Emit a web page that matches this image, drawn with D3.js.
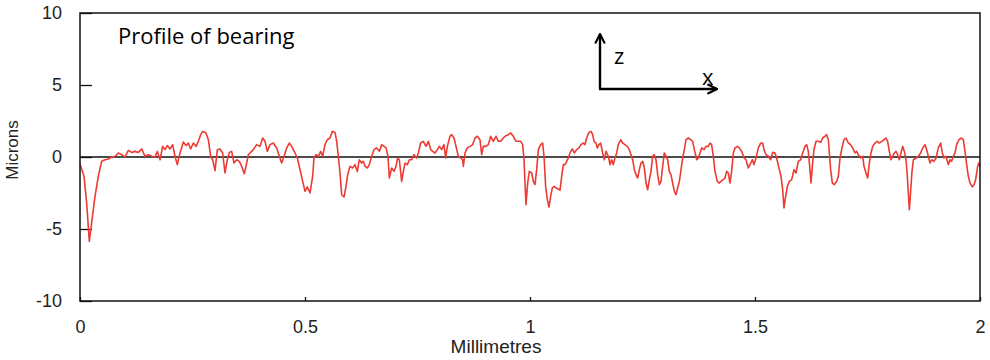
<!DOCTYPE html>
<html>
<head>
<meta charset="utf-8">
<script src="https://cdn.jsdelivr.net/npm/d3@7"></script>
<style>
  body { margin: 0; background: #fff; }
  text { font-family: "Liberation Sans", Arial, sans-serif; }
</style>
</head>
<body>
<div id="chart"></div>
<script>
var width = 990,
    height = 360;

var margin = {top: 13, right: 10, bottom: 59, left: 80};

// profile readings: position along the bearing (mm) and height (microns)
var positions = [
  0, 0.0089, 0.0148, 0.0207, 0.0259, 0.0333, 0.0407, 0.0481, 0.0556, 0.0630,
  0.0704, 0.0778, 0.0852, 0.0926, 0.1000, 0.1074, 0.1148, 0.1222, 0.1296, 0.1370,
  0.1444, 0.1519, 0.1593, 0.1667, 0.1719, 0.1778, 0.1837, 0.1889, 0.1941, 0.2000,
  0.2059, 0.2111, 0.2163, 0.2222, 0.2296, 0.2356, 0.2407, 0.2459, 0.2519, 0.2578,
  0.2630, 0.2681, 0.2726, 0.2800, 0.2852, 0.2904, 0.2948, 0.3000, 0.3052, 0.3111,
  0.3170, 0.3222, 0.3274, 0.3319, 0.3370, 0.3422, 0.3481, 0.3541, 0.3593, 0.3652,
  0.3704, 0.3741, 0.3793, 0.3852, 0.3926, 0.4000, 0.4059, 0.4111, 0.4163, 0.4222,
  0.4296, 0.4370, 0.4430, 0.4481, 0.4533, 0.4593, 0.4652, 0.4704, 0.4778, 0.4830,
  0.4889, 0.4948, 0.5000, 0.5052, 0.5111, 0.5170, 0.5200, 0.5244, 0.5296, 0.5348,
  0.5393, 0.5444, 0.5496, 0.5556, 0.5607, 0.5667, 0.5704, 0.5741, 0.5778, 0.5815,
  0.5867, 0.5911, 0.5948, 0.6000, 0.6059, 0.6111, 0.6163, 0.6207, 0.6259, 0.6296,
  0.6333, 0.6385, 0.6430, 0.6481, 0.6533, 0.6593, 0.6652, 0.6704, 0.6756, 0.6800,
  0.6844, 0.6874, 0.6926, 0.6978, 0.7022, 0.7059, 0.7096, 0.7148, 0.7185, 0.7222,
  0.7274, 0.7319, 0.7370, 0.7422, 0.7481, 0.7519, 0.7570, 0.7630, 0.7689, 0.7741,
  0.7793, 0.7837, 0.7889, 0.7941, 0.7985, 0.8037, 0.8089, 0.8126, 0.8163, 0.8222,
  0.8259, 0.8311, 0.8356, 0.8407, 0.8459, 0.8504, 0.8519, 0.8556, 0.8607, 0.8667,
  0.8726, 0.8778, 0.8830, 0.8889, 0.8926, 0.8963, 0.9022, 0.9074, 0.9126, 0.9185,
  0.9244, 0.9296, 0.9348, 0.9407, 0.9467, 0.9519, 0.9570, 0.9630, 0.9689, 0.9741,
  0.9793, 0.9837, 0.9867, 0.9889, 0.9911, 0.9948, 0.9985, 1.0037, 1.0074, 1.0111,
  1.0148, 1.0185, 1.0237, 1.0281, 1.0311, 1.0348, 1.0385, 1.0422, 1.0459, 1.0496,
  1.0541, 1.0578, 1.0630, 1.0667, 1.0704, 1.0741, 1.0778, 1.0815, 1.0852, 1.0889,
  1.0941, 1.0985, 1.1037, 1.1089, 1.1133, 1.1185, 1.1222, 1.1259, 1.1311, 1.1356,
  1.1393, 1.1422, 1.1467, 1.1496, 1.1533, 1.1570, 1.1615, 1.1652, 1.1689, 1.1741,
  1.1778, 1.1815, 1.1852, 1.1889, 1.1926, 1.1963, 1.2015, 1.2059, 1.2111, 1.2163,
  1.2207, 1.2244, 1.2281, 1.2319, 1.2356, 1.2393, 1.2430, 1.2467, 1.2504, 1.2541,
  1.2578, 1.2615, 1.2652, 1.2689, 1.2726, 1.2763, 1.2800, 1.2837, 1.2874, 1.2911,
  1.2948, 1.2985, 1.3022, 1.3059, 1.3096, 1.3133, 1.3170, 1.3207, 1.3244, 1.3281,
  1.3319, 1.3356, 1.3393, 1.3430, 1.3467, 1.3519, 1.3570, 1.3615, 1.3652, 1.3704,
  1.3741, 1.3778, 1.3815, 1.3867, 1.3911, 1.3963, 1.4000, 1.4037, 1.4074, 1.4111,
  1.4163, 1.4207, 1.4244, 1.4296, 1.4333, 1.4370, 1.4407, 1.4444, 1.4481, 1.4519,
  1.4556, 1.4607, 1.4652, 1.4704, 1.4756, 1.4800, 1.4852, 1.4889, 1.4941, 1.4978,
  1.5022, 1.5074, 1.5126, 1.5170, 1.5200, 1.5244, 1.5296, 1.5348, 1.5393, 1.5444,
  1.5481, 1.5541, 1.5578, 1.5615, 1.5644, 1.5681, 1.5719, 1.5763, 1.5815, 1.5867,
  1.5911, 1.5963, 1.6015, 1.6059, 1.6111, 1.6148, 1.6185, 1.6222, 1.6244, 1.6274,
  1.6311, 1.6356, 1.6407, 1.6459, 1.6504, 1.6556, 1.6593, 1.6630, 1.6652, 1.6681,
  1.6719, 1.6763, 1.6815, 1.6852, 1.6889, 1.6933, 1.6978, 1.7022, 1.7074, 1.7126,
  1.7170, 1.7222, 1.7259, 1.7296, 1.7348, 1.7393, 1.7422, 1.7467, 1.7504, 1.7541,
  1.7578, 1.7615, 1.7667, 1.7719, 1.7763, 1.7815, 1.7867, 1.7911, 1.7948, 1.7985,
  1.8022, 1.8059, 1.8096, 1.8133, 1.8170, 1.8207, 1.8244, 1.8281, 1.8319, 1.8356,
  1.8385, 1.8407, 1.8430, 1.8459, 1.8489, 1.8519, 1.8578, 1.8630, 1.8681, 1.8726,
  1.8778, 1.8815, 1.8852, 1.8889, 1.8926, 1.8978, 1.9022, 1.9074, 1.9126, 1.9163,
  1.9200, 1.9244, 1.9296, 1.9333, 1.9370, 1.9407, 1.9444, 1.9481, 1.9533, 1.9585,
  1.9630, 1.9667, 1.9704, 1.9741, 1.9778, 1.9830, 1.9867, 1.9904, 1.9926, 1.9948,
  1.9970, 2.0000
];

var heights = [
  -0.50, -1.34, -3.19, -5.86, -4.58, -2.73, -1.34, -0.30, -0.19, -0.14,
  0.00, 0.05, 0.28, 0.16, 0.00, 0.46, 0.32, 0.39, 0.32, 0.56,
  0.05, 0.16, 0.05, 0.00, 0.39, -0.19, 0.74, 0.51, 0.79, 0.56,
  0.86, 0.05, -0.53, 0.28, 1.04, 0.79, 0.97, 0.56, 0.97, 0.74,
  1.09, 1.55, 1.78, 1.67, 1.20, 0.05, -0.19, -0.95, 0.51, 0.56,
  0.28, -1.11, -0.19, 0.32, 0.39, -0.42, -0.19, -0.30, -0.65, -1.16,
  -0.42, 0.16, 0.32, 0.51, 0.86, 0.74, 1.32, 1.09, 0.39, 0.86,
  0.97, 0.63, 0.05, -0.42, 0.05, 0.63, 0.97, 0.74, 0.28, -0.07,
  -0.88, -1.69, -2.38, -2.08, -2.50, -1.34, -0.07, 0.16, 0.05, 0.39,
  0.05, 0.86, 1.20, 1.32, 1.78, 1.71, 1.09, 0.05, -1.11, -2.62,
  -2.78, -2.04, -1.23, -0.65, -0.76, -0.53, -1.00, -0.19, -0.42, -0.30,
  -0.65, -0.76, -0.53, 0.05, 0.51, 0.63, 0.39, 0.86, 0.74, 0.63,
  0.05, -1.46, -0.76, -1.00, -0.65, -0.07, -0.19, -1.69, -1.00, -0.42,
  -0.53, -0.19, -0.19, 0.16, -0.07, 0.28, 0.97, 1.09, 0.74, 1.09,
  0.51, 0.39, 0.28, 0.51, 0.74, 0.51, 0.86, -0.07, 0.74, 1.44,
  1.55, 1.32, 0.74, 0.05, -0.07, -0.19, -0.65, 0.28, 0.63, 0.74,
  0.86, 1.32, 1.44, 1.20, 0.16, 0.74, 0.74, 0.86, 1.44, 1.09,
  1.44, 1.09, 1.09, 1.32, 1.48, 1.55, 1.67, 1.44, 1.09, 1.09,
  1.09, 0.86, -0.19, -1.81, -3.31, -1.81, -1.00, -1.11, -1.69, -1.92,
  -0.88, 0.51, 0.86, 0.97, 0.05, -2.04, -2.96, -3.47, -2.73, -2.15,
  -2.04, -2.15, -2.22, -2.31, -1.34, -0.53, -0.53, -0.30, -0.07, 0.28,
  0.56, 0.28, 0.51, 0.63, 0.86, 0.97, 0.86, 1.32, 1.71, 1.78,
  1.55, 1.09, 0.97, 0.63, 0.86, 0.97, 0.28, -0.19, 0.39, 0.05,
  -0.53, -0.19, -0.53, -0.07, 0.28, 0.86, 1.20, 0.97, 0.86, 0.74,
  0.51, 0.16, -0.19, -0.88, -1.23, -1.46, -0.88, -0.42, -0.30, -0.76,
  -1.81, -2.27, -1.57, -1.00, 0.05, 0.16, -0.19, -1.23, -1.92, -1.69,
  -0.65, 0.28, 0.05, -0.19, -1.00, -1.23, -1.81, -2.38, -2.62, -2.15,
  -1.69, -0.88, -0.07, 0.51, 1.20, 1.32, 1.20, 1.09, 0.51, -0.19,
  -0.07, 0.28, 0.63, 0.51, 0.74, 0.74, 0.97, 0.86, 0.05, -1.00,
  -1.69, -1.81, -1.69, -1.57, -1.46, -1.00, -1.11, -1.81, -1.00, 0.28,
  0.63, 0.74, 0.63, 0.39, -0.07, -0.19, -0.76, -0.53, -0.19, -0.53,
  -0.07, 0.63, 0.97, 0.97, 0.51, 0.16, 0.05, -0.19, 0.32, 0.28,
  -0.07, -0.88, -1.34, -2.27, -3.54, -2.73, -2.04, -1.69, -1.57, -0.88,
  -1.11, -0.30, -0.19, 0.28, 0.74, 0.86, 0.39, -0.88, -1.81, -0.65,
  0.51, 1.09, 1.09, 1.02, 1.32, 1.44, 1.55, 1.20, 0.28, -0.88,
  -1.81, -1.92, -1.69, -1.34, -0.07, 0.63, 1.20, 1.32, 0.97, 0.86,
  0.63, 0.28, 0.39, 0.16, -0.07, 0.05, -0.65, -1.11, -1.46, -0.42,
  0.28, 0.74, 0.97, 1.09, 0.97, 1.09, 1.20, 1.32, 1.09, 0.39,
  -0.19, 0.05, 0.28, 0.39, 0.16, -0.19, 0.28, 0.74, 0.39, -0.19,
  -1.34, -2.50, -3.66, -2.38, -1.00, -0.19, -0.07, 0.05, 0.28, 0.63,
  0.86, 0.51, 0.05, -0.42, -0.19, -0.30, -0.07, 0.63, 0.97, 0.28,
  -0.07, 0.05, -0.53, -0.19, -0.30, 0.05, 0.28, 0.86, 1.20, 1.32,
  1.20, 0.39, -0.53, -1.34, -1.81, -2.08, -1.92, -1.57, -1.11, -0.65,
  -0.42, -0.65
];

var xTicks = [0, 0.5, 1, 1.5, 2];
var xTickLabels = ["0", "0.5", "1", "1.5", "2"];
var yTicks = [-10, -5, 0, 5, 10];
var yTickLabels = ["-10", "-5", "0", "5", "10"];

var innerW = width - margin.left - margin.right,
    innerH = height - margin.top - margin.bottom;

var svg = d3.select("#chart")
    .append("svg")
    .attr("width", width)
    .attr("height", height)
    .append("g")
    .attr("transform", "translate(" + margin.left + "," + margin.top + ")");

var x = d3.scaleLinear().domain([0, 2]).range([0, innerW]);
var y = d3.scaleLinear().domain([-10, 10]).range([innerH, 0]);

// axes, ticks pointing inward
var yAxis = svg.append("g")
    .call(d3.axisLeft(y)
        .tickValues(yTicks)
        .tickFormat(function (d, i) { return yTickLabels[i]; })
        .tickSize(-12)
        .tickSizeOuter(0)
        .tickPadding(18));

var xAxis = svg.append("g")
    .attr("transform", "translate(0," + innerH + ")")
    .call(d3.axisBottom(x)
        .tickValues(xTicks)
        .tickFormat(function (d, i) { return xTickLabels[i]; })
        .tickSize(-4)
        .tickSizeOuter(0)
        .tickPadding(19));

[yAxis, xAxis].forEach(function (a) {
    a.select(".domain").remove();
    a.selectAll(".tick line").attr("stroke", "#111").attr("stroke-width", 1.3);
    a.selectAll(".tick text")
        .attr("fill", "#222")
        .style("font-family", "'Liberation Sans', Arial, sans-serif")
        .style("font-size", "18px");
});

// zero line
svg.append("line")
    .attr("x1", 0).attr("x2", innerW)
    .attr("y1", y(0)).attr("y2", y(0))
    .attr("stroke", "#111")
    .attr("stroke-width", 1.5);

// profile
var line = d3.line()
    .x(function (d, i) { return x(positions[i]); })
    .y(function (d) { return y(d); });

svg.append("path")
    .datum(heights)
    .attr("fill", "none")
    .attr("stroke", "#ec3b33")
    .attr("stroke-width", 1.6)
    .attr("stroke-linejoin", "round")
    .attr("d", line);

// frame
svg.append("rect")
    .attr("width", innerW)
    .attr("height", innerH)
    .attr("fill", "none")
    .attr("stroke", "#111")
    .attr("stroke-width", 1.5);

// title
svg.append("text")
    .attr("x", 38)
    .attr("y", 31)
    .style("font-family", "'Open Sans', sans-serif")
    .style("font-size", "22px")
    .attr("fill", "#000")
    .text("Profile of bearing");

// axis labels
svg.append("text")
    .attr("x", innerW / 2 - 34)
    .attr("y", innerH + 52)
    .attr("text-anchor", "middle")
    .style("font-size", "19px")
    .attr("fill", "#222")
    .text("Millimetres");

svg.append("text")
    .attr("transform", "translate(" + (-62) + "," + (y(0) - 7) + ") rotate(-90)")
    .attr("text-anchor", "middle")
    .style("font-size", "17px")
    .attr("fill", "#222")
    .text("Microns");

// z / x direction arrows
var defs = svg.append("defs");
defs.append("marker")
    .attr("id", "head")
    .attr("viewBox", "0 0 10 10")
    .attr("refX", 9).attr("refY", 5)
    .attr("markerWidth", 5).attr("markerHeight", 5)
    .attr("orient", "auto")
    .append("path")
    .attr("d", "M1,1 L9,5 L1,9")
    .attr("fill", "none")
    .attr("stroke", "#000")
    .attr("stroke-width", 1.8);

var ox = 520, oy = 76;
svg.append("line")
    .attr("x1", ox).attr("y1", oy).attr("x2", ox).attr("y2", 21)
    .attr("stroke", "#000").attr("stroke-width", 2.4)
    .attr("marker-end", "url(#head)");
svg.append("line")
    .attr("x1", ox - 1).attr("y1", oy).attr("x2", 637).attr("y2", oy)
    .attr("stroke", "#000").attr("stroke-width", 2.4)
    .attr("marker-end", "url(#head)");

svg.append("text")
    .attr("x", 534).attr("y", 51)
    .style("font-family", "'Open Sans', sans-serif")
    .style("font-size", "22px")
    .text("z");
svg.append("text")
    .attr("x", 622).attr("y", 72)
    .style("font-family", "'Open Sans', sans-serif")
    .style("font-size", "22px")
    .text("x");
</script>
</body>
</html>
